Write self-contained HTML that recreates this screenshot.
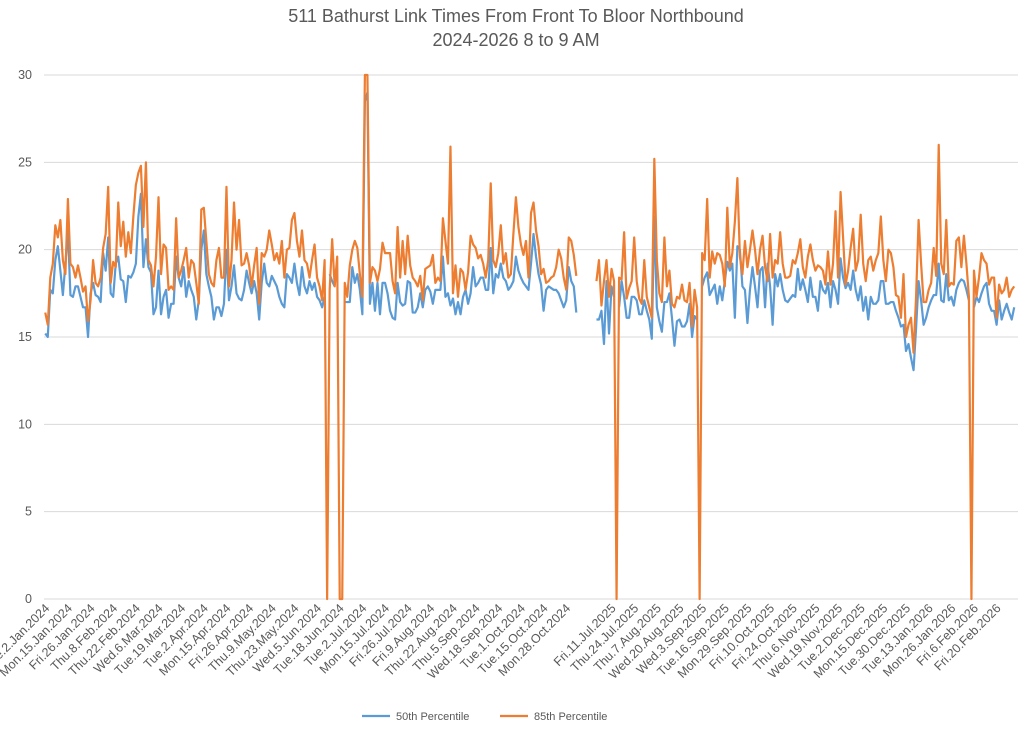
<!DOCTYPE html>
<html><head><meta charset="utf-8"><style>
body{margin:0;background:#fff;}
svg{display:block;font-family:"Liberation Sans",sans-serif;}
</style></head><body>
<svg id="chart" width="1024" height="746" viewBox="0 0 1024 746">
<text x="516" y="22" text-anchor="middle" font-size="18" fill="#595959">511 Bathurst Link Times From Front To Bloor Northbound</text>
<text x="516" y="46" text-anchor="middle" font-size="18" fill="#595959">2024-2026 8 to 9 AM</text>
<g id="grid"></g>
<g id="yticks"></g>
<g id="xticks"></g>
<g id="series"></g>
<g>
<g><line x1="362" y1="716" x2="390" y2="716" stroke="#5b9bd5" stroke-width="2.2"/><text x="396" y="720" font-size="11" fill="#595959">50th Percentile</text></g>
<g><line x1="500" y1="716" x2="528" y2="716" stroke="#ed7d31" stroke-width="2.2"/><text x="534" y="720" font-size="11" fill="#595959">85th Percentile</text></g>
</g>
</svg>
<script>
const yTicks=[0,5,10,15,20,25,30];
const xLabels=["Tue.2.Jan.2024","Mon.15.Jan.2024","Fri.26.Jan.2024","Thu.8.Feb.2024","Thu.22.Feb.2024","Wed.6.Mar.2024","Tue.19.Mar.2024","Tue.2.Apr.2024","Mon.15.Apr.2024","Fri.26.Apr.2024","Thu.9.May.2024","Thu.23.May.2024","Wed.5.Jun.2024","Tue.18.Jun.2024","Tue.2.Jul.2024","Mon.15.Jul.2024","Fri.26.Jul.2024","Fri.9.Aug.2024","Thu.22.Aug.2024","Thu.5.Sep.2024","Wed.18.Sep.2024","Tue.1.Oct.2024","Tue.15.Oct.2024","Mon.28.Oct.2024","","Fri.11.Jul.2025","Thu.24.Jul.2025","Thu.7.Aug.2025","Wed.20.Aug.2025","Wed.3.Sep.2025","Tue.16.Sep.2025","Mon.29.Sep.2025","Fri.10.Oct.2025","Fri.24.Oct.2025","Thu.6.Nov.2025","Wed.19.Nov.2025","Tue.2.Dec.2025","Mon.15.Dec.2025","Tue.30.Dec.2025","Tue.13.Jan.2026","Mon.26.Jan.2026","Fri.6.Feb.2026","Fri.20.Feb.2026"];
const labelEvery=9;
const p85seg1=[16.4,15.7,18.4,19.2,21.4,20.7,21.7,19.4,18.6,22.9,19.2,19.0,18.4,19.1,18.4,17.6,17.9,15.9,17.1,19.4,18.1,17.9,18.4,20.1,20.9,23.6,18.1,19.3,19.0,22.7,20.2,21.6,19.6,21.0,19.8,21.9,23.7,24.4,24.8,21.3,25.0,19.4,19.1,17.9,19.6,23.0,18.6,20.3,20.1,17.7,17.9,17.7,21.8,18.4,18.8,19.4,20.1,18.4,19.4,19.2,18.1,16.9,22.3,22.4,
20.5,18.6,18.1,17.9,19.4,20.1,18.4,18.4,23.6,17.9,19.4,22.7,20.0,21.7,19.1,19.2,19.8,19.1,17.9,19.1,20.1,16.9,19.8,19.6,20.0,21.1,20.3,19.4,19.8,19.2,20.5,18.4,20.0,20.1,21.7,22.1,20.5,19.6,21.1,19.4,19.2,18.4,19.4,20.3,18.4,17.9,17.1,
19.4,0,17.7,20.6,17.9,19.6,0,0,18.1,17.3,19.1,20.0,20.5,20.1,18.6,17.3,
30,30,
18.1,19.0,18.8,18.2,18.9,20.4,19.8,19.8,19.8,18.2,17.5,21.3,18.4,20.5,18.6,20.8,19.1,18.4,18.2,17.9,18.5,17.1,18.9,19.0,19.1,19.7,18.1,18.4,18.2,21.8,20.5,19.2,25.9,17.5,19.1,17.3,18.9,18.7,17.7,18.7,20.8,20.3,20.1,19.5,19.7,19.2,18.4,19.4,23.8,19.4,19.0,19.8,21.4,19.2,19.8,18.4,18.6,20.9,23.0,21.3,20.3,19.7,20.5,18.4,22.1,
22.7,21.1,20.2,18.6,18.9,18.1,18.2,18.4,18.5,19.0,20.0,19.5,18.4,17.7,20.7,20.5,19.7,18.5];
const p50seg1=[15.2,15.0,17.7,17.5,19.4,20.2,18.8,17.4,19.2,21.1,17.4,17.3,17.9,17.9,17.3,16.7,16.7,15.0,17.5,18.1,17.4,17.3,17.0,19.8,18.8,20.7,17.5,17.3,19.2,19.6,18.3,18.2,17.0,18.5,18.4,18.7,19.2,21.9,23.2,19.0,20.6,19.0,18.7,16.3,16.7,18.8,16.3,17.3,17.7,16.1,16.9,16.9,19.6,18.4,17.9,19.0,17.3,18.2,17.7,17.3,16.0,17.1,20.0,21.1,
18.6,17.9,17.3,16.0,16.7,16.7,16.2,16.9,20.0,17.1,17.9,19.1,17.5,17.2,17.1,17.7,18.8,18.1,17.5,18.2,17.5,16.0,18.1,19.2,18.1,17.9,18.5,18.2,17.9,17.3,16.9,16.7,18.6,18.4,18.1,19.2,18.1,17.4,19.0,17.9,17.5,18.2,17.7,18.1,17.3,17.1,16.7,
17.3,null,18.6,18.2,17.9,null,null,null,17.0,17.0,17.0,19.0,18.1,18.6,17.7,16.3,
28.5,29,
16.9,18.1,16.5,18.1,16.3,18.1,18.1,17.5,16.5,16.1,16.0,18.1,17.0,16.8,16.9,18.2,18.1,16.4,16.4,16.7,17.5,16.7,17.7,17.9,17.6,16.9,17.7,17.7,17.7,19.6,17.3,17.5,16.8,17.2,16.3,17.0,16.3,17.3,17.7,16.9,17.5,19.0,17.9,18.1,18.4,18.4,17.7,17.7,20.1,17.5,18.6,18.4,19.2,18.4,18.2,17.7,17.9,18.2,19.6,18.8,18.4,18.1,17.9,17.7,19.2,
20.9,19.6,18.6,18.0,16.5,17.7,17.9,17.8,17.7,17.7,17.5,17.1,16.7,17.1,19.0,18.2,17.9,16.4];
const gapCount=7;
const p85seg2=[18.2,19.4,16.8,18.2,19.4,17.3,18.9,18.2,0,18.4,18.3,21.0,17.2,17.8,18.2,20.7,18.2,17.2,16.9,19.4,17.3,16.7,16.1,
25.2,19.4,17.5,17.0,20.7,17.9,18.8,16.9,16.7,17.3,17.2,18.0,17.1,17.0,18.1,15.6,17.7,16.7,0,19.8,19.4,22.9,18.4,19.9,19.2,19.8,19.7,19.2,17.9,22.4,19.0,19.8,21.6,24.1,19.6,18.6,20.5,19.0,20.0,21.1,20.0,18.6,20.0,20.8,19.0,18.2,20.9,18.4,19.4,19.2,
21.0,19.2,18.4,18.4,18.5,19.4,19.2,19.8,20.6,19.0,18.4,19.6,20.3,19.4,18.8,19.1,19.0,18.8,18.0,19.9,18.0,19.2,22.2,18.4,23.3,20.7,18.0,18.8,20.1,21.2,18.8,19.4,22.0,19.2,18.2,19.4,19.6,18.8,19.4,19.8,21.9,19.4,18.2,20.0,19.8,19.0,17.4,17.3,16.1,18.6,15.0,
15.7,16.1,14.1,17.3,21.7,19.2,17.0,17.0,17.7,18.1,20.1,18.5,26.0,19.2,18.6,21.7,17.9,18.1,18.0,20.5,20.7,19.0,20.8,19.2,17.3,0,18.8,17.3,18.4,19.8,19.4,19.2,18.0,18.4,18.4,16.1,18.0,17.5,17.7,18.4,17.3,17.7,17.9];
const p50seg2=[16.0,16.0,16.5,14.6,18.2,15.2,17.9,17.3,null,16.7,18.2,17.3,16.1,16.1,17.3,17.3,17.1,16.3,16.3,17.1,16.5,16.0,14.9,
21.9,16.7,15.9,15.3,17.0,17.0,17.5,16.1,14.5,15.9,16.0,15.6,15.6,15.9,16.9,15.0,16.2,16.0,null,17.9,18.4,18.7,17.4,17.7,18.0,16.9,17.9,17.1,18.2,19.3,18.8,19.2,16.1,20.2,20.0,17.9,17.7,15.8,17.7,19.0,17.9,16.7,18.8,19.0,16.7,19.2,17.9,15.7,18.6,17.9,
18.6,17.7,17.1,17.0,17.2,17.4,17.3,18.9,17.7,18.3,17.7,17.0,18.4,17.3,17.3,16.5,18.2,17.7,17.5,18.1,16.7,18.2,17.7,16.9,19.5,18.4,17.8,18.1,17.7,18.8,17.7,17.1,17.9,16.5,17.3,16.0,17.3,16.9,16.9,17.1,18.2,18.2,16.9,16.9,17.0,17.0,16.5,16.1,15.6,15.7,14.2,
14.6,13.8,13.1,15.5,18.2,17.1,15.7,16.1,16.7,17.1,17.4,17.4,19.2,17.1,17.0,18.6,17.1,17.3,16.8,17.7,18.1,18.3,18.2,17.7,17.1,null,16.7,17.3,17.0,17.5,17.9,18.1,16.9,16.5,16.5,15.7,17.1,16.0,16.5,16.9,16.4,16.0,16.7];

const NS='http://www.w3.org/2000/svg';
const gap=new Array(gapCount).fill(null);
const p85=p85seg1.concat(gap,p85seg2);
const p50=p50seg1.concat(gap,p50seg2);
const plotL=44,plotR=1018,plotT=75,plotB=599,yMax=30;
const nCat=p85.length+1;
const cw=(plotR-plotL)/nCat;
function xs(i){return plotL+(i+0.5)*cw;}
function ys(v){return plotB-(v/yMax)*(plotB-plotT);}
function mk(tag,attrs,parent){const e=document.createElementNS(NS,tag);for(const k in attrs)e.setAttribute(k,attrs[k]);parent.appendChild(e);return e;}
const grid=document.getElementById('grid'),yt=document.getElementById('yticks'),xt=document.getElementById('xticks'),ser=document.getElementById('series');
yTicks.forEach(v=>{
  const l=mk('line',{x1:plotL,x2:plotR,y1:ys(v),y2:ys(v),stroke:'#d9d9d9','stroke-width':1},grid);
  
  
  const t=mk('text',{x:32,y:ys(v)+4,'text-anchor':'end','font-size':12.5,fill:'#595959'},yt);
  t.textContent=v;
  
  
});
xLabels.forEach((s,j)=>{
  if(!s)return;
  const x=xs(j*labelEvery)+5;
  const t=mk('text',{x:x,y:609,'text-anchor':'end','font-size':12.5,fill:'#595959',transform:'rotate(-45 '+x+' 609)'},xt);
  t.textContent=s;
  
  
});
function draw(arr,color,name){
  let d='',pen=false;
  arr.forEach((v,i)=>{
    if(v===null){pen=false;return;}
    d+=(pen?'L':'M')+xs(i).toFixed(2)+' '+ys(v).toFixed(2);
    pen=true;
  });
  const p=mk('path',{d:d,fill:'none',stroke:color,'stroke-width':2.2,'stroke-linejoin':'round'},ser);
  
  
}
draw(p50,'#5b9bd5','series-50th-percentile');
draw(p85,'#ed7d31','series-85th-percentile');
</script>
</body></html>
